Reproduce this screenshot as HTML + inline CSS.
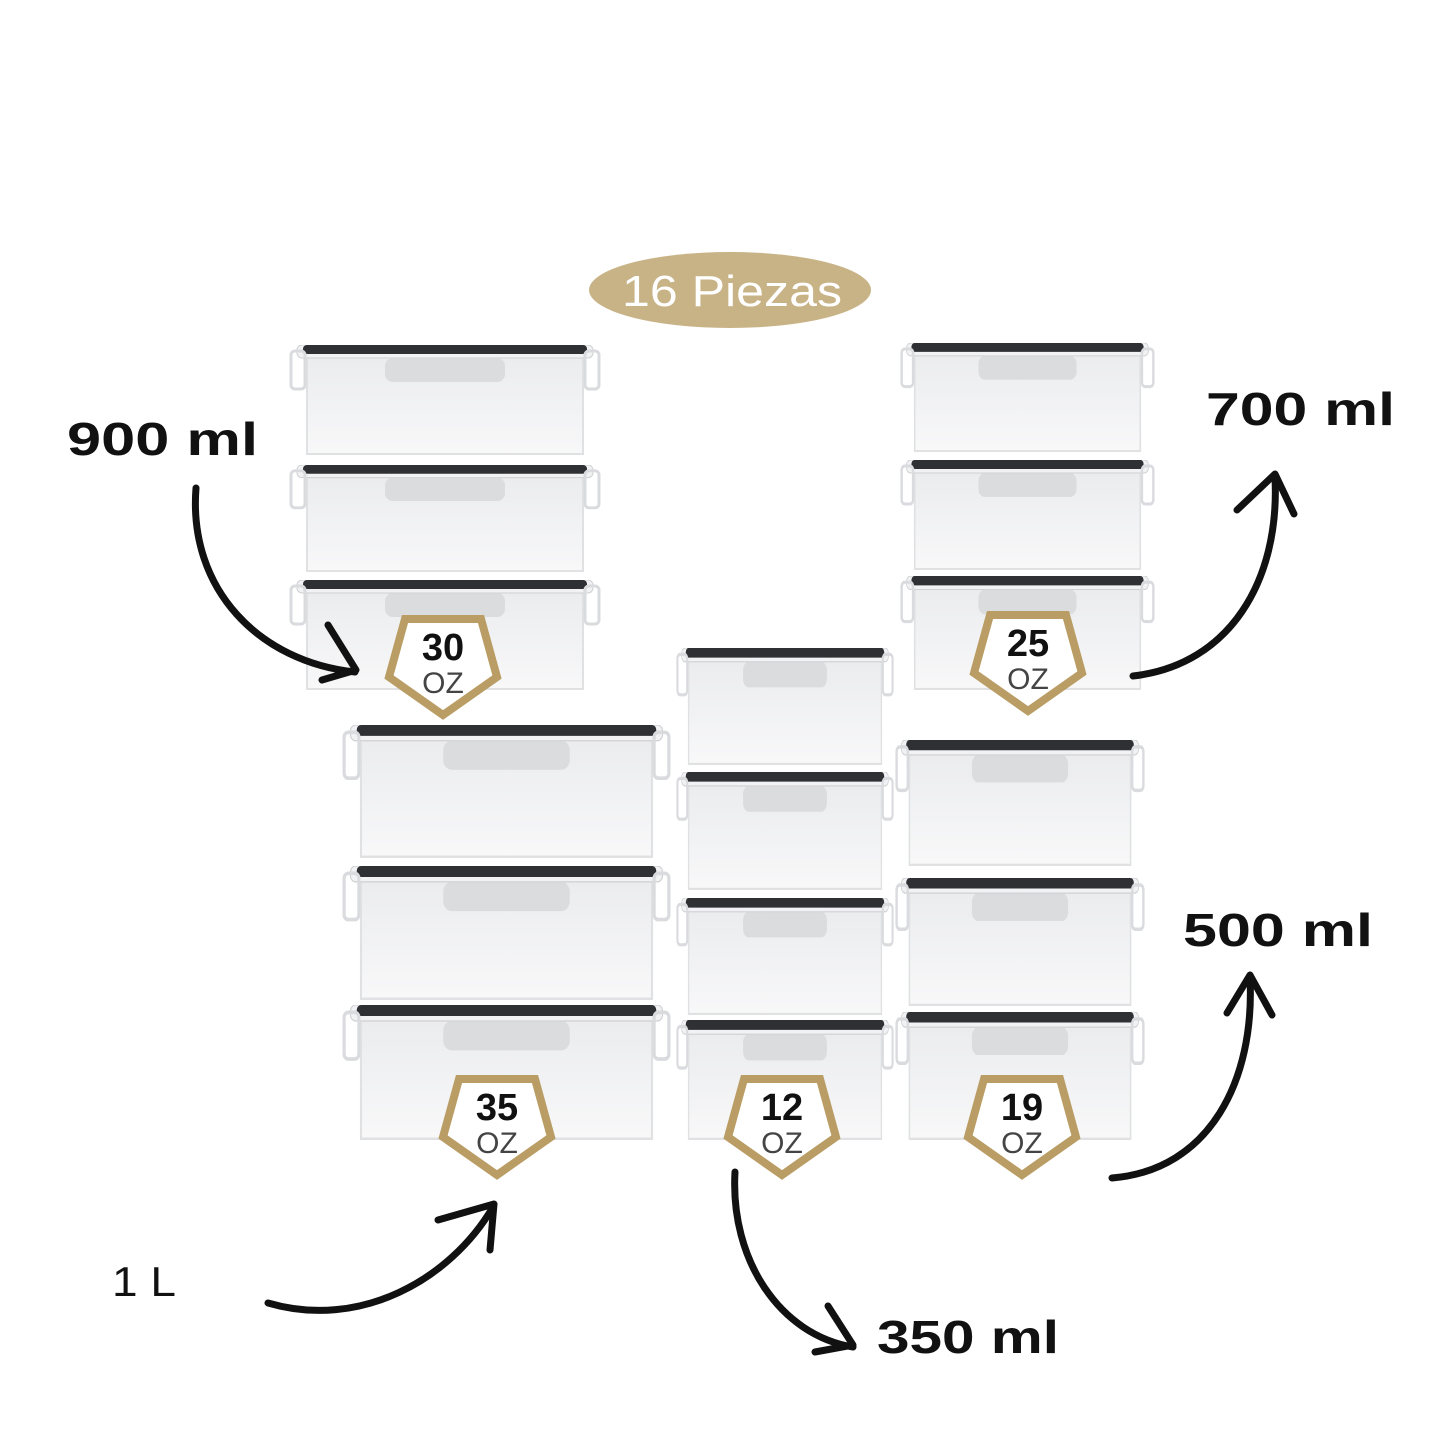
<!DOCTYPE html>
<html><head><style>body{margin:0;background:#fff}svg{display:block}</style></head><body>
<svg width="1445" height="1445" viewBox="0 0 1445 1445" xmlns="http://www.w3.org/2000/svg" xmlns:xlink="http://www.w3.org/1999/xlink" font-family="Liberation Sans, sans-serif">
<defs>
<linearGradient id="b" x1="0" y1="0" x2="0" y2="1"><stop offset="0" stop-color="#eaebed"/><stop offset="1" stop-color="#f8f8f9"/></linearGradient>
<symbol id="c" viewBox="-6 0 312 110" preserveAspectRatio="none">
<rect x="12" y="4" width="276" height="105" fill="url(#b)" stroke="#e0e1e3" stroke-width="2"/>
<rect x="2" y="0" width="296" height="13" rx="5" fill="#f2f2f4" stroke="#cfd0d3"/>
<rect x="8" y="0" width="284" height="9" rx="4" fill="#2e3034"/>
<rect x="90" y="13" width="120" height="24" rx="8" fill="#d6d7da" opacity="0.8"/>
<rect x="-4" y="6" width="14" height="38" rx="4" fill="none" stroke="#dadbde" stroke-width="3"/>
<rect x="290" y="6" width="14" height="38" rx="4" fill="none" stroke="#dadbde" stroke-width="3"/>
</symbol>
</defs>
<ellipse cx="730" cy="290" rx="141" ry="38" fill="#c8b387"/>
<text x="622" y="306" font-size="44" fill="#fff" textLength="220" lengthAdjust="spacingAndGlyphs">16 Piezas</text>

<use href="#c" xlink:href="#c" x="289" y="345" width="312" height="110"/>
<use href="#c" xlink:href="#c" x="289" y="465" width="312" height="107"/>
<use href="#c" xlink:href="#c" x="289" y="580" width="312" height="110"/>
<use href="#c" xlink:href="#c" x="900" y="343" width="255" height="109"/>
<use href="#c" xlink:href="#c" x="900" y="460" width="255" height="110"/>
<use href="#c" xlink:href="#c" x="900" y="576" width="255" height="114"/>
<use href="#c" xlink:href="#c" x="676" y="648" width="218" height="117"/>
<use href="#c" xlink:href="#c" x="676" y="772" width="218" height="118"/>
<use href="#c" xlink:href="#c" x="676" y="898" width="218" height="117"/>
<use href="#c" xlink:href="#c" x="676" y="1020" width="218" height="120"/>
<use href="#c" xlink:href="#c" x="342" y="725" width="329" height="133"/>
<use href="#c" xlink:href="#c" x="342" y="866" width="329" height="134"/>
<use href="#c" xlink:href="#c" x="342" y="1005" width="329" height="135"/>
<use href="#c" xlink:href="#c" x="895" y="740" width="250" height="126"/>
<use href="#c" xlink:href="#c" x="895" y="878" width="250" height="128"/>
<use href="#c" xlink:href="#c" x="895" y="1012" width="250" height="128"/>

<g fill="#fff" stroke="#b99d64" stroke-width="8" stroke-linejoin="miter">
<polygon points="443,715 389,677 405,619 481,619 497,677"/>
<polygon points="1028,711 974,673 990,615 1066,615 1082,673"/>
<polygon points="497,1175 443,1137 459,1079 535,1079 551,1137"/>
<polygon points="782,1175 728,1137 744,1079 820,1079 836,1137"/>
<polygon points="1022,1175 968,1137 984,1079 1060,1079 1076,1137"/>
</g>
<g text-anchor="middle" font-size="38" font-weight="bold" fill="#111">
<text x="443" y="660">30</text><text x="1028" y="656">25</text><text x="497" y="1120">35</text><text x="782" y="1120">12</text><text x="1022" y="1120">19</text>
</g>
<g text-anchor="middle" font-size="30" fill="#444">
<text x="443" y="693">OZ</text><text x="1028" y="689">OZ</text><text x="497" y="1153">OZ</text><text x="782" y="1153">OZ</text><text x="1022" y="1153">OZ</text>
</g>

<g fill="none" stroke="#111" stroke-width="7" stroke-linecap="round" stroke-linejoin="round">
<path d="M196,488 C188,590 260,662 355,672"/><path d="M328,625 L356,670 L322,680"/>
<path d="M1133,676 C1230,665 1280,580 1275,478"/><path d="M1237,510 L1275,474 L1294,514"/>
<path d="M1112,1178 C1210,1170 1255,1080 1250,978"/><path d="M1227,1013 L1250,975 L1272,1015"/>
<path d="M268,1303 C360,1330 450,1280 493,1207"/><path d="M438,1220 L494,1204 L490,1250"/>
<path d="M735,1172 C730,1260 780,1335 853,1347"/><path d="M828,1306 L853,1345 L815,1352"/>
</g>
<g font-weight="bold" font-size="46" fill="#111">
<text x="67" y="455" textLength="191" lengthAdjust="spacingAndGlyphs">900 ml</text>
<text x="1206" y="425" textLength="189" lengthAdjust="spacingAndGlyphs">700 ml</text>
<text x="1183" y="946" textLength="190" lengthAdjust="spacingAndGlyphs">500 ml</text>
<text x="877" y="1353" textLength="182" lengthAdjust="spacingAndGlyphs">350 ml</text>
</g>
<text x="112" y="1296" font-size="42" fill="#111" textLength="64" lengthAdjust="spacingAndGlyphs">1 L</text>
</svg>
</body></html>
